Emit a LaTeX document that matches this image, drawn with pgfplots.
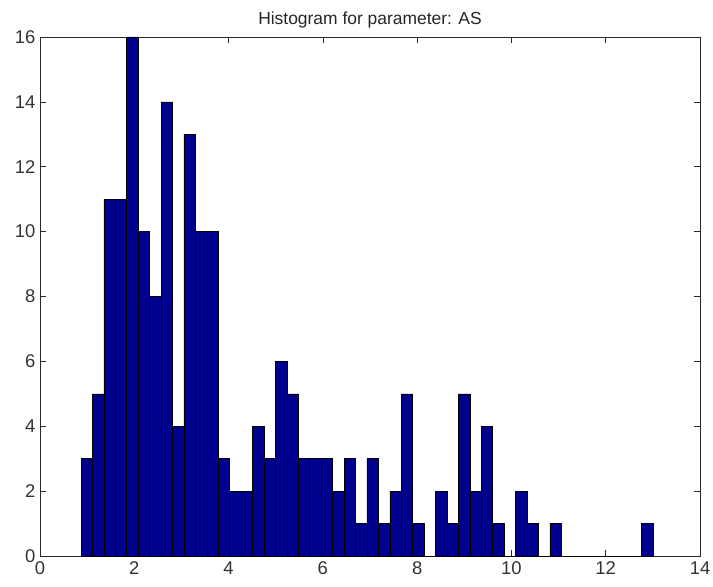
\documentclass[border=0pt]{standalone}
\usepackage{fontspec}
\setmainfont{Liberation Sans}
\usepackage{pgfplots}
\pgfplotsset{compat=1.18}
\definecolor{mbar}{RGB}{0,0,143}
\definecolor{axgray}{RGB}{40,40,40}
\begin{document}
\begin{tikzpicture}
\path[use as bounding box] (-40bp,-31bp) rectangle (673bp,556bp);
\begin{axis}[
  at={(0,0)}, anchor=south west,
  scale only axis,
  width=660bp, height=519bp,
  xmin=0, xmax=14, ymin=0, ymax=16,
  xtick={0,2,...,14}, ytick={0,2,...,16},
  tick align=inside, xtick pos=both, ytick pos=both,
  major tick length=6bp,
  axis line style={axgray, line width=0.8pt},
  tick style={axgray, line width=0.6pt},
  tick label style={font=\fontsize{18.5}{20}\selectfont, text=black!80},
  /pgf/number format/assume math mode=true,
  xticklabel style={yshift=-2bp},
  yticklabel style={xshift=-1bp},
  title={Histogram for parameter: AS},
  title style={font=\fontsize{17.5}{19}\selectfont, text=black!85, yshift=-1bp},
  clip=false,
]
\addplot[ybar interval, fill=mbar, draw=black, line width=0.6pt] coordinates {
(0.870,3) (1.113,5) (1.355,11) (1.598,11) (1.840,16) (2.083,10) (2.326,8) (2.568,14) (2.811,4) (3.053,13)
(3.296,10) (3.539,10) (3.781,3) (4.024,2) (4.266,2) (4.509,4) (4.752,3) (4.994,6) (5.237,5) (5.479,3)
(5.722,3) (5.965,3) (6.207,2) (6.450,3) (6.692,1) (6.935,3) (7.178,1) (7.420,2) (7.663,5) (7.905,1)
(8.148,0) (8.391,2) (8.633,1) (8.876,5) (9.118,2) (9.361,4) (9.604,1) (9.846,0) (10.089,2) (10.331,1)
(10.574,0) (10.817,1) (11.059,0) (11.302,0) (11.544,0) (11.787,0) (12.030,0) (12.272,0) (12.515,0) (12.757,1)
(13.000,0)
};
\end{axis}
\end{tikzpicture}
\end{document}
